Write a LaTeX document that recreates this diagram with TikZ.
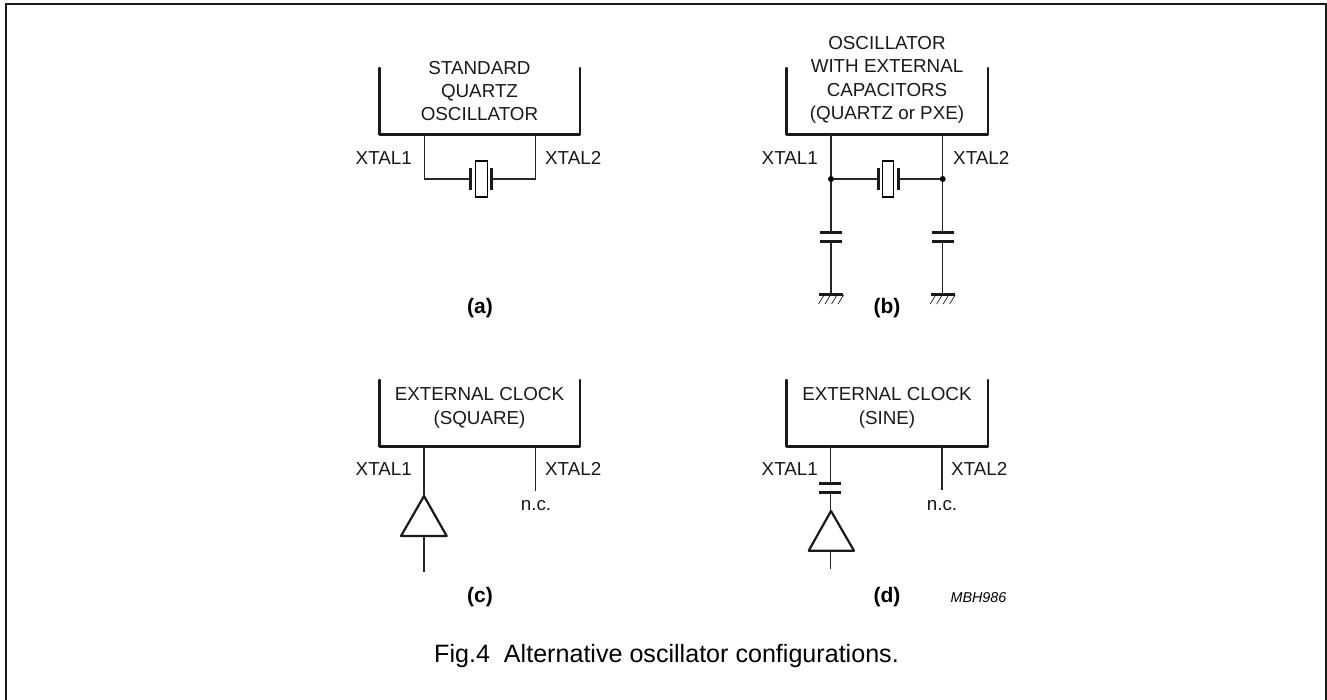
\documentclass[tikz,border=0pt]{standalone}
\usepackage{fontspec}
\setmainfont{Liberation Sans}
\tikzset{
 x=1pt,y=-1pt,
 wire/.style={line width=1.3pt,black!85},
 heavy/.style={line width=2.4pt,black!90,line cap=round,line join=round},
 plate/.style={line width=3pt,black!90},
 lab/.style={font=\fontsize{18.8}{23.3}\selectfont,align=center,inner sep=0pt,text=black!90},
 figlabel/.style={font=\bfseries\fontsize{21}{23}\selectfont,inner sep=0pt},
 junction/.style={circle,fill=black,inner sep=0pt,minimum size=6pt},
 quartz/.style={draw,line width=1.1pt,inner sep=0pt,minimum width=11.5pt,minimum height=36pt},
}
\begin{document}
\begin{tikzpicture}
\useasboundingbox (0,0) rectangle (1327,699);
\draw[line width=2pt,black!90] (6,710) -- (6,4) -- (1326,4) -- (1326,710);
% (a)
\draw[heavy] (379.5,68) -- (379.5,134.5) -- (580,134.5) -- (580,68);
\node[lab] (ta) at (479.5,91) {STANDARD\\QUARTZ\\OSCILLATOR};
\node[lab,anchor=east] (a1) at (412,158) {XTAL1};
\node[lab,anchor=west] (a2) at (545,158) {XTAL2};
\coordinate (aL) at (424.5,134.5); \coordinate (aR) at (535.7,134.5);
\coordinate (aXl) at (470.7,179); \coordinate (aXr) at (491.3,179);
\draw[wire] (aL) |- (aXl); \draw[wire] (aR) |- (aXr);
\node[quartz] (xa) at (481.3,179) {};
\draw[plate] (470.7,168) -- (470.7,190); \draw[plate] (491.3,168) -- (491.3,190);
\node[figlabel] (la) at (480,308) {(a)};
% (b)
\draw[heavy] (786.3,68) -- (786.3,134.5) -- (987.7,134.5) -- (987.7,68);
\node[lab] (tb) at (887,80) {OSCILLATOR\\WITH EXTERNAL\\CAPACITORS\\(QUARTZ or PXE)};
\node[lab,anchor=east] (b1) at (818,158) {XTAL1};
\node[lab,anchor=west] (b2) at (953,158) {XTAL2};
\node[junction] (d1) at (831,179) {}; \node[junction] (d2) at (942.7,179) {};
\coordinate (bL) at (831,134.5); \coordinate (bR) at (942.7,134.5);
\coordinate (gL) at (831,294); \coordinate (gR) at (942.7,294);
\draw[wire] (bL) -- (d1) -- (831,232.7); \draw[wire] (831,241.7) -- (gL);
\draw[wire] (bR) -- (d2) -- (942.7,232.7); \draw[wire] (942.7,241.7) -- (gR);
\draw[wire] (d1) -- (878,179); \draw[wire] (d2) -- (898,179);
\node[quartz] (xb) at (887.8,179) {};
\draw[plate] (878,168) -- (878,190); \draw[plate] (898,168) -- (898,190);
\foreach \X in {831,942.7}{
 \draw[plate] (\X-11,232.7) -- (\X+11,232.7);
 \draw[plate] (\X-11,241.7) -- (\X+11,241.7);
 \draw[plate] (\X-12,294) -- (\X+12,294);
 \foreach \i in {0,1,2,3}{\draw[line width=.6pt] (\X-7+\i*6.5,295) -- (\X-12.5+\i*6.5,304);}
}
\node[figlabel] (lb) at (887,308) {(b)};
% (c)
\draw[heavy] (379.5,380) -- (379.5,446.3) -- (580,446.3) -- (580,380);
\node[lab] (tc) at (479.5,408) {EXTERNAL CLOCK\\(SQUARE)};
\node[lab,anchor=east] (c1) at (412,469) {XTAL1};
\node[lab,anchor=west] (c2) at (545,469) {XTAL2};
\node[lab] (nc1) at (536,506) {n.c.};
\draw[wire] (424,446.3) -- (424,496);
\draw[heavy,line width=2.2pt] (424,496) -- (446.7,536) -- (401,536) -- cycle;
\draw[wire] (424,536) -- (424,571.7);
\draw[wire] (535.7,446.3) -- (535.7,491);
\node[figlabel] (lc) at (480,597) {(c)};
% (d)
\draw[heavy] (786.3,380) -- (786.3,446.3) -- (987.7,446.3) -- (987.7,380);
\node[lab] (td) at (887,408) {EXTERNAL CLOCK\\(SINE)};
\node[lab,anchor=east] (d1l) at (818,469) {XTAL1};
\node[lab,anchor=west] (d2l) at (951,469) {XTAL2};
\node[lab] (nc2) at (942,506) {n.c.};
\draw[wire] (830.3,446.3) -- (830.3,483.3); \draw[wire] (830.3,492.3) -- (830.3,511);
\draw[plate] (819,483.3) -- (841,483.3); \draw[plate] (819,492.3) -- (841,492.3);
\draw[heavy,line width=2.2pt] (831,511) -- (854,550.7) -- (808.7,550.7) -- cycle;
\draw[wire] (830.3,550.7) -- (830.3,569);
\draw[wire] (942,446.3) -- (942,490);
\node[figlabel] (ld) at (887,597) {(d)};
\node[font=\itshape\fontsize{14.3}{16}\selectfont,inner sep=0pt] (mb) at (978.5,598) {MBH986};
\node[font=\fontsize{25.1}{28}\selectfont,inner sep=0pt,anchor=base west] (fig) at (434,662) {Fig.4\hspace{14pt}Alternative oscillator configurations.};
\end{tikzpicture}
\end{document}
